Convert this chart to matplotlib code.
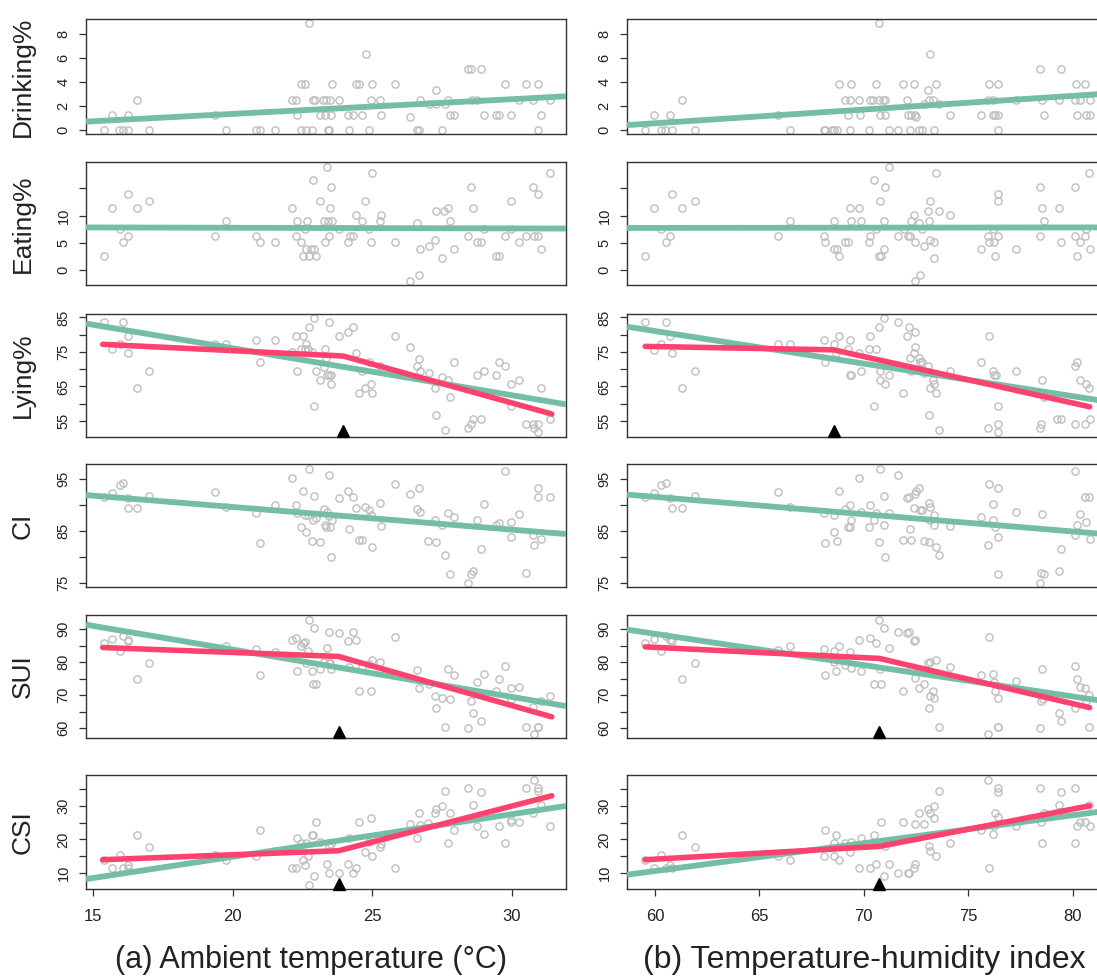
import numpy as np
import matplotlib
matplotlib.use("Agg")
import matplotlib.pyplot as plt

plt.rcParams['font.family'] = ['Liberation Sans', 'DejaVu Sans']

# ---- scatter data: (x, y) ----
# left column: ambient temperature (°C); right column: THI
drink_temp = [(15.40,0),(15.68,1.27),(15.93,0),(16.08,0),(16.26,0),(16.25,1.27),(16.59,2.53),(17.01,0),
    (19.36,1.27),(19.77,0),(20.85,0),(21.00,0),(21.51,0),
    (22.14,2.53),(22.26,2.53),(22.30,1.27),(22.47,3.8),(22.59,3.8),(22.47,0),(22.64,0),(22.84,0),(22.74,8.86),
    (22.89,2.53),(22.97,2.53),(23.15,1.27),(23.25,2.53),(23.32,1.27),(23.35,2.53),(23.42,0),(23.47,0),(23.50,2.53),
    (23.52,1.27),(23.55,3.8),(23.80,2.53),(24.13,1.27),(24.19,0),(24.31,1.27),(24.41,3.8),(24.53,3.8),(24.63,1.27),
    (24.79,6.33),(24.89,0),(24.97,2.53),(25.01,3.8),(25.29,2.53),(25.32,1.27),(25.82,3.8),
    (26.37,1.1),(26.61,0),(26.68,0),(26.73,2.53),(27.03,2.2),(27.28,3.3),(27.28,2.2),(27.51,0),(27.62,2.2),
    (27.71,2.53),(27.81,1.27),(27.94,1.27),(28.44,5.06),(28.54,5.06),(28.59,2.53),(28.76,2.53),(28.92,5.06),
    (29.02,1.27),(29.45,1.27),(29.55,1.27),(29.77,3.8),(29.98,1.27),(30.28,2.53),(30.50,3.8),(30.76,2.53),
    (30.96,3.8),(30.96,0),(31.07,1.27),(31.37,2.53)]
drink_thi = [(59.53,0),(59.93,1.27),(60.30,0),(60.47,0),(60.74,1.27),(60.81,0),(61.31,2.53),(61.92,0),
    (65.89,1.27),(66.46,0),(68.08,0),(68.15,0),(68.48,0),(68.59,0),(68.69,0),(68.82,3.8),(69.09,2.53),(69.26,1.27),
    (69.33,2.53),(69.33,0),(69.39,3.8),(69.78,2.53),(69.83,1.27),(70.24,0),(70.27,2.53),(70.44,2.53),(70.57,3.8),
    (70.74,8.86),(70.74,2.53),(70.77,1.27),(70.91,2.53),(71.01,1.27),(71.01,2.53),(71.21,0),(71.62,0),(71.85,3.8),
    (72.05,2.53),(72.12,1.27),(72.19,0),(72.26,1.27),(72.42,3.8),(72.46,1.27),(72.49,1.1),(72.63,0),(72.79,0),
    (72.86,2.2),(73.06,3.3),(73.13,2.53),(73.16,6.33),(73.33,2.53),(73.37,0),(73.43,3.8),(73.60,2.2),(74.11,1.27),
    (75.62,1.27),(75.96,2.53),(75.99,3.8),(76.16,1.27),(76.20,2.53),(76.26,1.27),(76.40,3.8),(76.40,0),(76.43,1.27),
    (77.27,2.53),(78.45,5.06),(78.52,2.53),(78.62,1.27),(79.33,2.53),(79.46,5.06),(80.10,2.53),(80.17,3.8),
    (80.20,1.27),(80.37,2.53),(80.61,3.8),(80.64,1.27),(80.81,2.53),(80.81,1.27)]

eat_temp = [(15.40,2.5),(15.68,11.4),(15.96,7.6),(16.08,5.1),(16.26,13.9),(16.25,6.3),(16.59,11.4),(17.01,12.7),
    (19.36,6.3),(19.77,8.9),(20.85,6.3),(21.00,5.1),(21.51,5.1),
    (22.14,11.4),(22.30,8.9),(22.26,6.3),(22.47,5.1),(22.52,2.5),(22.59,7.6),(22.64,3.8),(22.68,8.9),(22.74,2.5),
    (22.82,3.8),(22.89,16.5),(22.93,3.8),(22.98,2.5),(23.15,12.7),(23.27,8.9),(23.30,5.1),(23.40,19.0),(23.42,8.9),
    (23.45,6.3),(23.50,11.4),(23.52,15.2),(23.55,8.9),(23.80,7.6),
    (24.13,5.1),(24.21,6.3),(24.31,6.3),(24.41,10.1),(24.63,8.9),(24.76,12.7),(24.89,7.6),(24.97,5.1),(25.01,17.8),
    (25.29,8.9),(25.32,10.1),(25.82,5.1),
    (26.37,-2.1),(26.61,8.7),(26.68,-1.0),(26.73,3.8),(27.03,4.3),(27.26,5.4),(27.28,10.8),(27.51,2.2),(27.59,10.8),
    (27.71,11.4),(27.81,8.9),(27.94,3.8),
    (28.44,6.3),(28.54,15.2),(28.61,11.4),(28.76,5.1),(28.92,5.1),(29.02,7.6),(29.45,2.5),(29.55,2.5),(29.77,6.3),
    (29.98,12.7),(29.98,7.6),(30.28,5.1),(30.50,6.3),(30.76,15.2),(30.79,6.3),(30.94,13.9),(30.96,6.3),(31.07,3.8),
    (31.37,17.8)]
eat_thi = [(59.53,2.5),(59.93,11.4),(60.30,7.6),(60.51,5.1),(60.74,6.3),(60.81,13.9),(61.31,11.4),(61.92,12.7),
    (65.89,6.3),(66.46,8.9),
    (68.08,6.3),(68.15,5.1),(68.55,3.8),(68.59,8.9),(68.69,3.8),(68.82,2.5),(69.09,5.1),(69.26,5.1),(69.33,11.4),
    (69.39,8.9),(69.78,11.4),(69.85,8.9),(70.24,5.1),(70.30,6.3),(70.47,16.5),(70.57,7.6),(70.74,2.5),(70.77,12.7),
    (70.81,2.5),(70.94,8.9),(70.98,3.8),(71.01,15.2),(71.21,19.0),
    (71.65,6.3),(71.92,7.6),(72.09,6.3),(72.19,6.3),(72.26,8.9),(72.42,10.1),(72.46,5.1),(72.46,-2.1),(72.66,8.7),
    (72.69,-1.0),(72.79,7.6),(72.90,4.3),(73.06,10.8),(73.13,8.9),(73.16,12.7),(73.16,5.4),(73.37,5.1),(73.37,2.2),
    (73.43,17.8),(73.60,10.8),(74.11,10.1),
    (75.62,3.8),(75.93,6.3),(75.99,5.1),(76.16,7.6),(76.23,5.1),(76.30,2.5),(76.40,6.3),(76.40,13.9),(76.43,12.7),
    (77.27,3.8),
    (78.45,15.2),(78.45,6.3),(78.52,11.4),(78.62,8.9),(79.33,11.4),(79.46,5.1),(80.10,15.2),(80.13,6.3),(80.20,2.5),
    (80.34,5.1),(80.57,6.3),(80.64,7.6),(80.77,17.8),(80.81,3.8)]

lie_temp = [(15.40,83.6),(15.68,75.9),(15.96,77.4),(16.08,83.6),(16.25,79.7),(16.26,74.6),(16.59,64.5),(17.01,69.5),
    (19.36,77.4),(19.77,77.4),(20.85,78.4),(21.00,72.1),(21.51,78.4),
    (22.14,74.9),(22.26,79.7),(22.30,69.5),(22.47,75.9),(22.52,79.7),(22.59,75.9),(22.64,77.3),(22.72,75.9),
    (22.74,82.3),(22.84,74.9),(22.93,84.8),(22.92,59.4),(22.98,69.5),(23.15,66.9),(23.27,70.5),(23.30,75.9),
    (23.35,73.3),(23.40,68.3),(23.45,83.6),(23.47,68.3),(23.52,68.3),(23.52,65.7),(23.80,79.7),(24.13,80.9),
    (24.31,82.3),(24.41,74.6),(24.53,63.2),(24.63,69.5),(24.76,64.5),(24.89,72.1),(24.97,65.7),(25.01,63.2),
    (25.29,70.8),(25.82,79.7),
    (26.37,76.3),(26.61,70.8),(26.68,73.0),(26.73,69.5),(27.03,68.8),(27.26,64.5),(27.28,56.8),(27.51,67.8),
    (27.62,52.4),(27.71,66.9),(27.81,61.8),(27.94,72.1),
    (28.44,53.0),(28.54,54.2),(28.61,55.5),(28.76,68.3),(28.92,55.5),(29.02,69.5),(29.45,68.3),(29.55,72.1),
    (29.77,70.8),(29.98,65.7),(29.98,59.3),(30.28,66.9),(30.50,54.2),(30.76,54.2),(30.79,53.0),(30.94,54.2),
    (30.96,51.7),(31.07,64.5),(31.37,55.5)]
lie_thi = [(59.53,83.6),(59.93,75.6),(60.30,77.4),(60.51,83.6),(60.74,79.7),(60.81,74.6),(61.31,64.5),(61.92,69.5),
    (65.89,77.2),(66.46,77.2),
    (68.08,78.4),(68.15,72.1),(68.55,77.2),(68.65,74.6),(68.82,79.7),(69.26,75.9),(69.33,78.4),(69.33,68.3),
    (69.39,68.3),(69.78,74.6),(69.85,69.5),(70.24,75.9),(70.30,79.7),(70.47,59.4),(70.57,75.9),(70.74,82.3),
    (70.77,69.5),(70.77,66.9),(70.98,84.8),(71.01,65.7),(71.21,68.3),
    (71.65,83.6),(71.85,63.2),(72.05,79.7),(72.15,82.3),(72.22,73.3),(72.26,69.5),(72.42,74.6),(72.46,80.9),
    (72.46,76.3),(72.66,73.3),(72.69,72.1),(72.79,72.1),(72.90,68.8),(73.06,70.8),(73.10,56.8),(73.16,64.5),
    (73.33,66.9),(73.37,65.7),(73.43,63.2),(73.60,52.4),(74.11,69.5),
    (75.62,72.1),(75.93,53.0),(75.99,79.7),(76.16,69.5),(76.23,68.3),(76.33,68.3),(76.40,54.2),(76.40,51.7),
    (76.43,59.3),(77.27,69.5),
    (78.45,53.0),(78.48,54.2),(78.52,66.9),(78.62,61.8),(79.26,55.5),(79.43,55.5),(80.10,54.2),(80.13,70.8),
    (80.20,72.1),(80.34,66.9),(80.61,54.2),(80.64,65.7),(80.77,64.5),(80.81,55.5)]

ci_temp = [(15.40,91.6),(15.68,92.3),(15.96,93.8),(16.08,94.3),(16.25,91.3),(16.26,89.4),(16.59,89.5),(17.01,91.7),
    (19.36,92.4),(19.77,89.6),(20.85,88.4),(21.00,82.6),(21.51,89.9),
    (22.14,95.2),(22.26,90.0),(22.30,88.5),(22.47,85.7),(22.52,92.6),(22.59,88.1),(22.64,84.7),(22.72,88.1),
    (22.74,97.0),(22.84,83.0),(22.89,87.0),(22.93,91.8),(22.98,87.4),(23.15,82.8),(23.27,89.3),(23.30,86.2),
    (23.35,85.7),(23.40,88.7),(23.45,95.7),(23.47,87.9),(23.50,85.7),(23.52,79.9),(23.55,87.0),(23.80,91.3),
    (24.13,92.7),(24.19,85.3),(24.31,91.5),(24.41,89.4),(24.53,83.3),(24.63,83.3),(24.76,89.6),(24.89,89.1),
    (24.97,88.1),(25.01,81.9),(25.29,90.3),(25.32,86.0),(25.82,94.0),
    (26.37,92.1),(26.61,89.3),(26.68,93.2),(26.73,88.7),(27.01,83.1),(27.26,87.0),(27.28,82.8),(27.51,86.2),
    (27.61,80.3),(27.71,88.4),(27.81,76.6),(27.94,87.7),
    (28.44,74.9),(28.54,76.7),(28.63,77.2),(28.76,87.1),(28.92,81.5),(29.02,90.2),(29.45,86.2),(29.55,86.5),
    (29.77,96.6),(29.98,86.7),(29.98,83.9),(30.28,88.3),(30.50,76.8),(30.76,84.1),(30.79,82.3),(30.94,93.2),
    (30.96,91.5),(31.07,83.5),(31.37,91.6)]
ci_thi = [(59.53,91.6),(59.93,92.3),(60.30,93.8),(60.51,94.3),(60.74,91.3),(60.81,89.4),(61.31,89.5),(61.92,91.7),
    (65.89,92.4),(66.46,89.6),
    (68.08,88.4),(68.15,82.6),(68.55,84.7),(68.59,88.1),(68.69,83.0),(68.82,92.6),(69.09,89.3),(69.26,85.7),
    (69.33,85.7),(69.33,89.9),(69.39,87.0),(69.78,95.2),(69.85,88.7),(70.24,85.7),(70.30,90.0),(70.47,87.0),
    (70.57,88.4),(70.74,82.8),(70.77,97.0),(70.94,91.8),(70.98,86.2),(71.01,79.9),(71.21,88.5),
    (71.65,95.7),(71.85,83.3),(72.05,91.3),(72.15,91.5),(72.22,85.3),(72.26,83.3),(72.42,89.4),(72.46,92.1),
    (72.49,92.7),(72.66,93.2),(72.69,89.1),(72.79,89.1),(72.90,83.1),(73.10,90.3),(73.10,82.8),(73.16,89.6),
    (73.16,87.0),(73.37,88.1),(73.37,86.2),(73.43,81.9),(73.60,80.3),(74.11,86.0),
    (75.62,87.7),(75.93,82.3),(75.99,94.0),(76.16,90.2),(76.20,87.1),(76.30,85.7),(76.40,93.2),(76.40,76.7),
    (76.43,83.9),(77.27,88.7),
    (78.45,74.9),(78.48,76.8),(78.52,88.3),(78.62,76.6),(79.33,77.2),(79.43,81.5),(80.10,84.1),(80.13,96.6),
    (80.20,86.2),(80.34,88.3),(80.61,91.5),(80.64,86.7),(80.77,91.6),(80.81,83.5)]

sui_temp = [(15.40,85.7),(15.68,86.9),(15.96,83.4),(16.08,88.0),(16.25,86.6),(16.26,86.3),(16.59,75.0),(17.01,79.6),
    (19.36,84.0),(19.77,84.8),(20.85,83.9),(21.00,76.0),(21.51,82.9),
    (22.14,86.6),(22.26,87.4),(22.30,77.4),(22.47,85.0),(22.52,85.7),(22.59,86.0),(22.64,79.7),(22.72,83.4),
    (22.74,92.8),(22.84,77.4),(22.89,73.3),(22.93,90.4),(22.98,73.3),(23.15,77.9),(23.27,80.0),(23.40,84.3),
    (23.45,89.0),(23.47,79.7),(23.50,79.7),(23.52,77.9),(23.80,88.7),(24.13,86.4),(24.19,78.5),(24.31,89.0),
    (24.41,86.7),(24.53,71.3),(24.63,78.5),(24.89,79.4),(24.97,71.3),(25.01,80.6),(25.29,80.0),(25.82,87.6),
    (26.61,77.6),(26.68,72.2),(27.03,73.4),(27.26,69.6),(27.28,66.2),(27.51,69.0),(27.61,60.3),(27.71,77.9),
    (27.81,68.8),(27.94,76.0),
    (28.44,59.9),(28.54,68.2),(28.61,64.7),(28.76,73.9),(28.92,62.0),(29.02,76.3),(29.45,71.3),(29.55,74.9),
    (29.77,78.8),(29.98,72.1),(29.98,68.7),(30.28,72.4),(30.50,60.4),(30.76,66.4),(30.79,58.3),(30.94,60.4),
    (30.96,60.2),(31.07,68.3),(31.37,69.8)]
sui_thi = [(59.53,85.7),(59.93,86.9),(60.30,83.4),(60.51,88.0),(60.74,86.6),(60.81,86.3),(61.31,75.0),(61.92,79.6),
    (65.89,83.7),(66.46,84.8),
    (68.08,83.9),(68.15,76.0),(68.55,83.4),(68.59,80.0),(68.65,77.4),(68.82,85.0),(69.09,79.1),(69.33,82.9),
    (69.39,78.1),(69.78,86.8),(69.85,77.4),(70.30,87.4),(70.47,73.3),(70.57,85.7),(70.74,92.8),(70.77,77.9),
    (70.84,73.3),(70.94,90.4),(71.21,84.3),
    (71.65,89.0),(71.85,71.3),(72.05,88.7),(72.15,89.0),(72.26,77.6),(72.39,86.4),(72.46,86.6),(72.46,75.3),
    (72.66,72.2),(72.86,73.4),(73.06,79.7),(73.10,66.2),(73.16,69.6),(73.16,80.0),(73.33,71.3),(73.37,69.0),
    (73.43,80.6),(73.60,60.3),(74.11,78.5),
    (75.62,76.0),(75.93,58.3),(75.99,87.6),(76.16,76.3),(76.23,73.9),(76.30,71.2),(76.40,69.0),(76.40,60.4),
    (76.43,60.2),(77.27,74.3),
    (78.45,59.9),(78.48,68.2),(78.52,77.9),(78.59,68.8),(79.33,64.7),(79.43,62.0),(80.10,66.1),(80.13,78.8),
    (80.20,74.9),(80.34,72.4),(80.61,72.1),(80.64,68.3),(80.77,70.0),(80.77,60.4)]

csi_temp = [(15.40,13.8),(15.68,11.4),(15.96,15.3),(16.08,11.4),(16.25,12.4),(16.26,11.4),(16.59,21.4),(17.01,17.7),
    (19.36,15.3),(19.77,13.7),(20.85,15.1),(21.00,22.8),(21.51,16.6),
    (22.14,11.4),(22.26,11.4),(22.30,20.4),(22.47,19.0),(22.52,13.8),(22.59,12.4),(22.64,18.9),(22.69,15.1),
    (22.74,6.2),(22.84,21.4),(22.89,21.4),(22.93,8.9),(22.98,25.2),(23.15,19.1),(23.40,12.5),(23.45,10.0),
    (23.47,18.0),(23.52,18.7),(23.80,10.0),(24.13,12.5),(24.19,20.4),(24.31,10.0),(24.41,11.4),(24.53,25.2),
    (24.76,16.3),(24.89,19.2),(24.97,26.5),(25.01,15.1),(25.29,17.6),(25.32,18.7),(25.82,11.4),
    (26.37,24.7),(26.61,20.4),(26.68,28.0),(26.73,24.2),(27.01,24.8),(27.26,28.0),(27.28,29.0),(27.51,30.1),
    (27.61,34.4),(27.71,18.9),(27.81,27.8),(27.94,22.8),
    (28.44,35.5),(28.61,30.4),(28.76,24.1),(28.92,34.2),(29.02,21.5),(29.55,24.1),(29.77,18.9),(29.98,25.2),
    (29.98,25.9),(30.28,25.2),(30.50,35.5),(30.76,28.0),(30.79,37.9),(30.94,35.5),(30.96,34.4),(31.07,30.4),
    (31.37,24.1)]
csi_thi = [(59.53,13.8),(59.93,11.4),(60.30,15.3),(60.51,11.4),(60.74,12.4),(60.81,11.4),(61.31,21.4),(61.92,17.7),
    (65.89,15.1),(66.46,13.8),
    (68.08,15.1),(68.15,22.8),(68.55,18.9),(68.59,15.1),(68.65,21.4),(68.82,13.8),(69.09,19.0),(69.33,16.3),
    (69.39,19.1),(69.78,11.4),(69.85,20.4),(70.30,11.4),(70.47,21.4),(70.57,12.5),(70.74,18.7),(70.81,25.2),
    (70.94,8.9),(71.01,18.0),(71.21,12.5),
    (71.65,10.0),(71.85,25.2),(72.09,10.0),(72.15,10.0),(72.42,11.4),(72.46,12.5),(72.46,24.7),(72.66,28.0),
    (72.90,24.7),(73.06,29.0),(73.10,18.0),(73.16,16.5),(73.16,27.8),(73.37,30.1),(73.37,26.5),(73.43,15.1),
    (73.60,34.4),(74.11,18.9),
    (75.62,22.8),(75.96,37.9),(75.99,11.4),(76.16,21.5),(76.23,24.1),(76.30,27.8),(76.40,35.5),(76.40,34.2),
    (76.43,26.7),(77.27,24.1),
    (78.45,35.5),(78.48,25.2),(78.52,18.9),(78.62,28.0),(79.33,30.4),(79.43,34.2),(80.10,35.5),(80.13,18.9),
    (80.20,24.1),(80.34,25.2),(80.61,25.2),(80.77,30.4),(80.81,24.1)]

# linear fits (intercept, slope)
lin_temp = [(-1.105, 0.1223), (7.977, -0.012), (103.29, -1.361), (98.36, -0.4376), (112.45, -1.433), (-10.75, 1.277)]
lin_thi = [(-6.27, 0.1139), (7.44, 0.00445), (137.65, -0.9435), (111.58, -0.3338), (145.42, -0.948), (-39.69, 0.8367)]

# segmented fits: start, breakpoint, end  (None = no breakpoint)
seg_temp = [None, None,
            [(15.35, 77.2), (23.97, 73.8), (31.44, 57.0)],
            None,
            [(15.35, 84.4), (23.80, 81.7), (31.44, 63.4)],
            [(15.35, 13.9), (23.80, 16.6), (31.44, 33.1)]]
seg_thi = [None, None,
           [(59.53, 76.6), (68.55, 75.6), (80.81, 59.1)],
           None,
           [(59.53, 84.6), (70.74, 81.1), (80.81, 66.2)],
           [(59.53, 13.9), (70.74, 17.9), (80.81, 30.1)]]

row_names = ["Drinking%", "Eating%", "Lying%", "CI", "SUI", "CSI"]
row_ylim = [(-0.33, 9.2), (-2.85, 19.9), (50.4, 86.1), (74.1, 97.9), (57.0, 94.4), (5.05, 39.4)]
row_ticks = [[0, 2, 4, 6, 8], [0, 5, 10, 15], [55, 60, 65, 70, 75, 80, 85], [75, 80, 85, 90, 95],
             [60, 65, 70, 75, 80, 85, 90], [10, 15, 20, 25, 30, 35]]
row_ticklabels = [["0", "2", "4", "6", "8"], ["0", "5", "10", ""], ["55", "", "65", "", "75", "", "85"],
                  ["75", "", "85", "", "95"], ["60", "", "70", "", "80", "", "90"],
                  ["10", "", "20", "", "30", ""]]
temp_ticks = [15, 20, 25, 30]
thi_ticks = [60, 65, 70, 75, 80]

# pixel layout of the reference (top, bottom) per row
row_px = [(19.4, 134), (162, 285), (313.6, 436.8), (464, 587.3), (614.5, 738), (774.8, 889.2)]
W, H = 1097, 977

green = '#75BEA6'
red = '#FF416E'
grey = '#BEBEBE'

fig = plt.figure(figsize=(W / 100, H / 100), dpi=100)

scatter_temp = [drink_temp, eat_temp, lie_temp, ci_temp, sui_temp, csi_temp]
scatter_thi = [drink_thi, eat_thi, lie_thi, ci_thi, sui_thi, csi_thi]

columns = [
    (86, (14.75, 31.95), scatter_temp, lin_temp, seg_temp, temp_ticks),
    (627, (58.66, 81.64), scatter_thi, lin_thi, seg_thi, thi_ticks),
]

for ci_, (left_px, xlim, scat, lins, segs, xt) in enumerate(columns):
    for r in range(6):
        top, bot = row_px[r]
        ax = fig.add_axes([left_px / W, 1 - bot / H, 480 / W, (bot - top) / H])
        pts = np.array(scat[r])
        ax.plot(pts[:, 0], pts[:, 1], 'o', mfc='none', mec=grey, ms=5.2, mew=1.0, zorder=2)
        b, m = lins[r]
        ax.axline((0, b), slope=m, color=green, lw=4.2, solid_capstyle='butt', zorder=3)
        if segs[r] is not None:
            sx, sy = zip(*segs[r])
            ax.plot(sx, sy, color=red, lw=4.0, solid_capstyle='round', solid_joinstyle='round', zorder=4)
            ax.plot([sx[1]], [0.045], marker='^', color='black', ms=9, transform=ax.get_xaxis_transform(),
                    clip_on=False, zorder=5)
        ax.set_xlim(*xlim)
        ax.set_ylim(*row_ylim[r])
        ax.set_yticks(row_ticks[r])
        ax.set_yticklabels(row_ticklabels[r])
        for lab in ax.get_yticklabels():
            lab.set_rotation(90)
            lab.set_va('center')
        ax.tick_params(axis='y', direction='out', length=5, width=0.9, labelsize=10.5, pad=6, colors='#333333',
                       labelcolor='#222222')
        if r == 5:
            ax.set_xticks(xt)
            ax.tick_params(axis='x', direction='out', length=5, width=0.9, labelsize=12, pad=9,
                           colors='#333333', labelcolor='#222222')
        else:
            ax.set_xticks([])
        for sp in ax.spines.values():
            sp.set_linewidth(1.0)
            sp.set_color('#333333')
        if ci_ == 0:
            fig.text(23 / W, 1 - (top + bot) / 2 / H, row_names[r], rotation=90, ha='center', va='center',
                     fontsize=19, color='#222222')

fig.text(311 / W, 1 - 960 / H, "(a) Ambient temperature (°C)", ha='center', va='center', fontsize=22,
         color='#222222')
fig.text(864 / W, 1 - 960 / H, "(b) Temperature-humidity index", ha='center', va='center', fontsize=23,
         color='#222222')

fig.savefig("out.png", dpi=100)
